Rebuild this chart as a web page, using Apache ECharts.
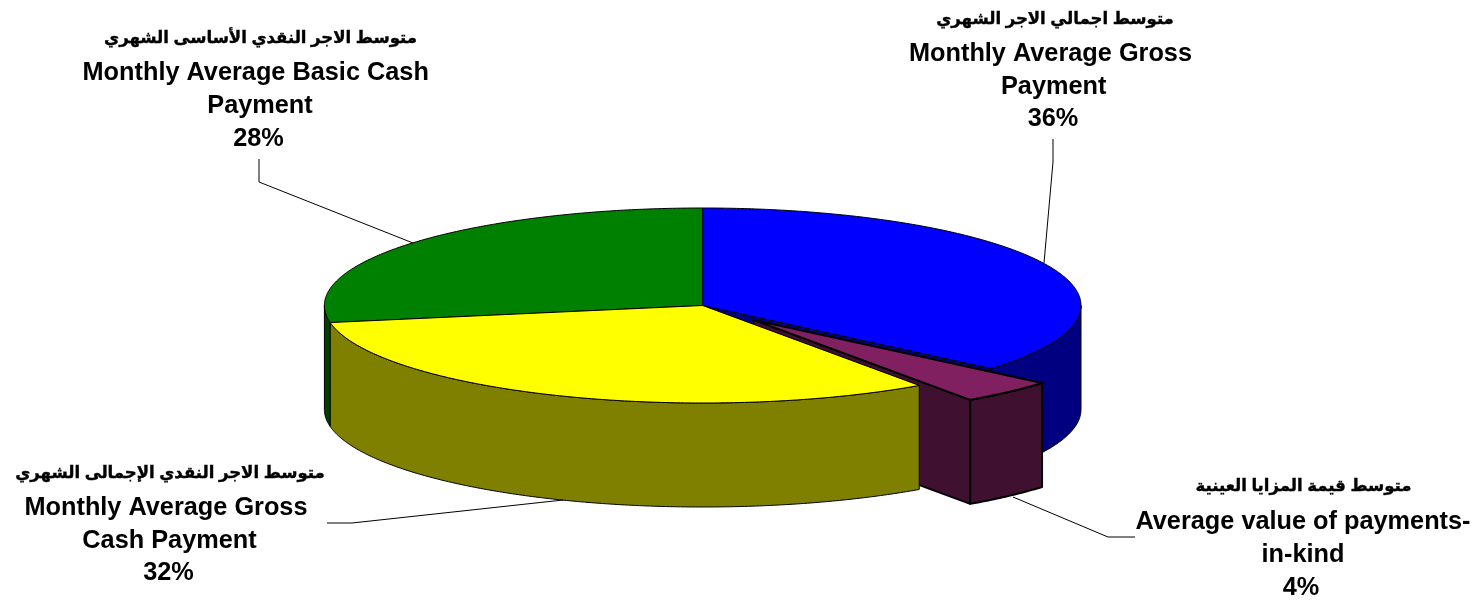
<!DOCTYPE html>
<html>
<head>
<meta charset="utf-8">
<style>html,body{margin:0;padding:0;background:#fff}#c{width:1479px;height:600px}</style>
<script src="https://cdn.jsdelivr.net/npm/echarts@6/dist/echarts.min.js"></script>
</head>
<body>
<div id="c"></div>
<script>
// ---- data ----
var categoriesEn = ['Monthly Average Gross Payment', 'Average value of payments-in-kind', 'Monthly Average Gross Cash Payment', 'Monthly Average Basic Cash Payment'];
var categoriesAr = ['متوسط اجمالي الاجر الشهري', 'متوسط قيمة المزايا العينية', 'متوسط الاجر النقدي الإجمالى الشهري', 'متوسط الاجر النقدي الأساسى الشهري'];
var wrappedEn = [['Monthly Average Gross', 'Payment'], ['Average value of payments-', 'in-kind'], ['Monthly Average Gross', 'Cash Payment'], ['Monthly Average Basic Cash', 'Payment']];
var values = [36.2, 4.1, 31.9, 27.8];
var explode = [0, 0.2, 0, 0];

// ---- styling and layout ----
var topColors = ['#0000ff', '#802060', '#ffff00', '#008000'];
var sideColors = ['#000080', '#401030', '#808000', '#004000'];
var borderWidths = [1, 2, 1, 1];
var layers = [2, 3, 4, 1];
var cx = 702.7, cy = 305.5, rx = 378.3, ry = 97.5, depth = 104;
var labelCenters = [[1055, 1050.5, 1053.7, 1053], [1303.5, 1303, 1303, 1301], [170, 166, 169.5, 168.5], [260.5, 255.7, 260, 258.5]];
var labelRows = [[19, 54, 87, 119], [486, 522, 555, 588], [473, 508, 541, 573], [38, 73, 106, 139]];
var leaders = [
  [[1053, 139], [1053, 162], [1044, 263]],
  [[1013, 497], [1108, 537], [1135, 537]],
  [[327, 523], [352, 523], [563, 500]],
  [[259, 159], [259, 182], [413, 243]]
];
var fontEn = 'bold 25.3px "Liberation Sans", Arial, sans-serif';
var fontAr = 'bold 16.5px "Liberation Sans", Arial, "DejaVu Sans", sans-serif';

var total = values.reduce(function (a, b) { return a + b; }, 0);
var startAngles = [], acc = 0;
values.forEach(function (v) { startAngles.push(acc / total * Math.PI * 2); acc += v; });

function pt(a, ox, oy, dz) {
  return [cx + ox + rx * Math.sin(a), cy + oy - ry * Math.cos(a) + (dz || 0)];
}
function arc(a0, a1, ox, oy, dz) {
  var pts = [], n = Math.max(2, Math.ceil((a1 - a0) / 0.01));
  for (var i = 0; i <= n; i++) pts.push(pt(a0 + (a1 - a0) * i / n, ox, oy, dz));
  return pts;
}

function renderItem(params, api) {
  var i = params.dataIndex;
  var a0 = startAngles[i], a1 = a0 + api.value(0) / total * Math.PI * 2;
  var mid = (a0 + a1) / 2;
  var ox = explode[i] * rx * Math.sin(mid), oy = -explode[i] * ry * Math.cos(mid);
  var z = layers[i] * 10;
  var bw = borderWidths[i];
  var children = [];
  function poly(points, fill, zz) {
    children.push({
      type: 'polygon', z2: z + zz, silent: true,
      shape: { points: points },
      style: { fill: fill, stroke: '#000', lineWidth: bw, lineJoin: 'round' }
    });
  }
  // cut face at the end of the slice
  var centre = [cx + ox, cy + oy];
  var e = pt(a1, ox, oy);
  if (Math.cos(a1) < 0 && Math.sin(a1) > 0) {
    poly([centre, e, [e[0], e[1] + depth], [centre[0], centre[1] + depth]], sideColors[i], 0);
  }
  // outer wall (front half of the rim only)
  var w0 = Math.max(a0, Math.PI / 2), w1 = Math.min(a1, Math.PI * 1.5);
  if (w1 > w0) {
    poly(arc(w0, w1, ox, oy, 0).concat(arc(w0, w1, ox, oy, depth).reverse()), sideColors[i], 1);
  }
  // top face
  poly([centre].concat(arc(a0, a1, ox, oy, 0)), topColors[i], 2);
  // leader
  children.push({
    type: 'polyline', z2: 60, silent: true,
    shape: { points: leaders[i] },
    style: { fill: null, stroke: '#000', lineWidth: 1 }
  });
  // labels
  var pct = Math.round(api.value(0) / total * 100) + '%';
  var lines = [categoriesAr[i]].concat(wrappedEn[i], [pct]);
  lines.forEach(function (t, k) {
    children.push({
      type: 'text', z2: 70, silent: true,
      style: {
        text: t, x: labelCenters[i][k], y: labelRows[i][k],
        font: k === 0 ? fontAr : fontEn, fill: '#000', align: 'center', verticalAlign: 'middle',
        stroke: k === 0 ? '#000' : null, lineWidth: k === 0 ? 0.4 : 0
      }
    });
  });
  return { type: 'group', children: children };
}

var chart = echarts.init(document.getElementById('c'), null, { renderer: 'canvas' });
chart.setOption({
  animation: false,
  backgroundColor: '#ffffff',
  series: [{
    type: 'custom',
    coordinateSystem: 'none',
    renderItem: renderItem,
    data: values.map(function (v, i) { return { name: categoriesEn[i], value: [v] }; })
  }]
});
</script>
</body>
</html>
